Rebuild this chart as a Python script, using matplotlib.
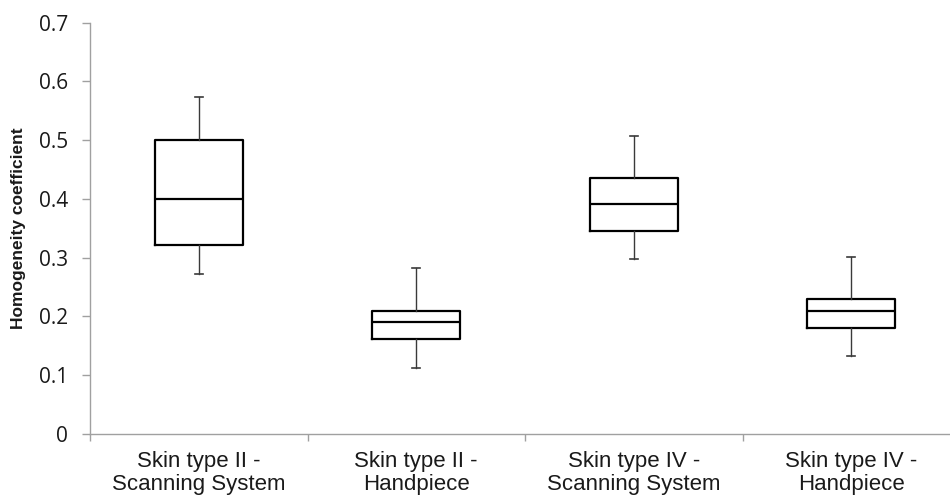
import numpy as np
import matplotlib
matplotlib.use('agg')
import matplotlib.pyplot as plt

categories = ["Skin type II -\nScanning System", "Skin type II -\nHandpiece",
              "Skin type IV -\nScanning System", "Skin type IV -\nHandpiece"]
whisker_low = [0.272, 0.112, 0.297, 0.132]
q1 = [0.321, 0.161, 0.346, 0.180]
median = [0.400, 0.191, 0.392, 0.210]
q3 = [0.500, 0.210, 0.435, 0.230]
whisker_high = [0.573, 0.283, 0.508, 0.302]

stats = []
for i in range(len(categories)):
    stats.append({"whislo": whisker_low[i], "q1": q1[i], "med": median[i],
                  "q3": q3[i], "whishi": whisker_high[i], "fliers": []})

fig = plt.figure(figsize=(9.5, 4.95), dpi=100)
ax = fig.add_axes([90 / 950, 1 - 434 / 495, 870 / 950, (434 - 22.7) / 495])

pos = np.arange(1, len(categories) + 1)
ax.bxp(stats, positions=pos, widths=0.405, capwidths=0.035, showfliers=False,
       boxprops=dict(color='black', linewidth=1.6),
       medianprops=dict(color='black', linewidth=1.6),
       whiskerprops=dict(color='#3a3a3a', linewidth=1.0),
       capprops=dict(color='#3a3a3a', linewidth=1.2))

ax.set_xlim(0.5, 4.5)
ax.set_ylim(0, 0.7)
ax.set_yticks(np.arange(0, 0.71, 0.1))
ax.set_yticklabels(["0"] + ["%.1f" % v for v in np.arange(0.1, 0.71, 0.1)],
                   fontsize=15, color='#1a1a1a', family='Open Sans')
ax.set_xticks(pos)
ax.set_xticklabels(categories, fontsize=16, color='#1a1a1a', family='Liberation Sans',
                   linespacing=1.15)
ax.set_xticks(np.arange(0.5, 4.6, 1), minor=True)
ax.tick_params(axis='x', which='major', length=0, pad=12)
ax.tick_params(axis='x', which='minor', length=5, color='#a0a0a0', width=1)
ax.tick_params(axis='y', length=6, color='#a0a0a0', width=1, pad=10)

for s in ['top', 'right']:
    ax.spines[s].set_visible(False)
for s in ['left', 'bottom']:
    ax.spines[s].set_color('#a0a0a0')
    ax.spines[s].set_linewidth(1)

fig.text(19 / 950, 1 - 228 / 495, "Homogeneity coefficient", rotation=90,
         ha='center', va='center', fontsize=12.5, fontweight='bold',
         family='Liberation Sans', color='#1a1a1a')

fig.savefig("out.png", dpi=100)
